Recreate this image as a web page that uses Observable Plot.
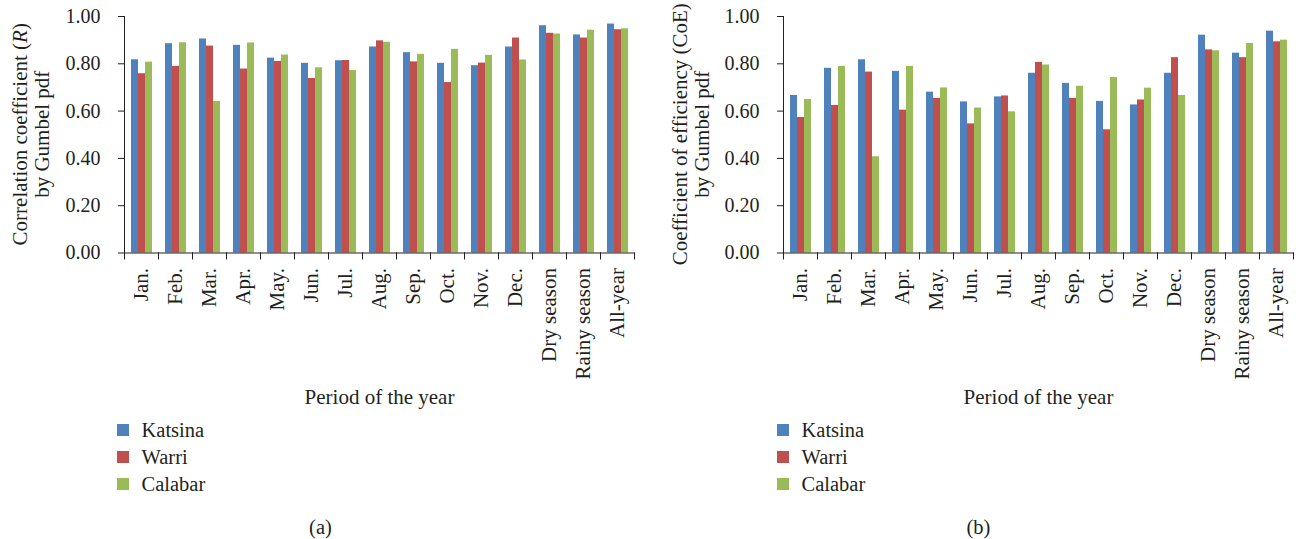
<!DOCTYPE html>
<html>
<head>
<meta charset="utf-8">
<script src="https://cdn.jsdelivr.net/npm/d3@7"></script>
<script src="https://cdn.jsdelivr.net/npm/@observablehq/plot@0.6"></script>
<style>
  body { margin: 0; background: #fff; font-family: "Liberation Serif", serif; color: #231f20; }
  #wrap { display: flex; width: 1302px; height: 539px; overflow: hidden; }
  .panel { width: 651px; position: relative; }
  .panel svg { display: block; }
  .legend { margin-top: 1.5px; font-size: 20.5px; }
  .legend .row { height: 27px; line-height: 27px; display: flex; align-items: center; }
  .legend .sw { width: 12px; height: 12px; display: inline-block; margin-right: 13px; }
  .caption { margin-top: 17px; height: 24px; line-height: 24px; font-size: 20.5px; text-align: center; }
</style>
</head>
<body>
<div id="wrap"></div>
<script>
// Periods on the category axis
const periods = ["Jan.", "Feb.", "Mar.", "Apr.", "May.", "Jun.", "Jul.", "Aug.", "Sep.", "Oct.", "Nov.", "Dec.", "Dry season", "Rainy season", "All-year"];
const stations = ["Katsina", "Warri", "Calabar"];
const stationColors = ["#4F81BD", "#C0504D", "#9BBB59"];
const yTicks = [0, 0.2, 0.4, 0.6, 0.8, 1.0];

// (a) Correlation coefficient R, Gumbel pdf
const rKatsina = [0.817, 0.885, 0.905, 0.878, 0.824, 0.802, 0.813, 0.871, 0.847, 0.802, 0.792, 0.871, 0.961, 0.922, 0.968];
const rWarri   = [0.758, 0.789, 0.875, 0.778, 0.810, 0.738, 0.814, 0.897, 0.808, 0.721, 0.803, 0.909, 0.929, 0.909, 0.944];
const rCalabar = [0.807, 0.889, 0.641, 0.888, 0.837, 0.783, 0.772, 0.891, 0.840, 0.861, 0.836, 0.816, 0.926, 0.942, 0.948];

// (b) Coefficient of efficiency CoE, Gumbel pdf
const coeKatsina = [0.666, 0.781, 0.817, 0.768, 0.680, 0.639, 0.660, 0.760, 0.717, 0.641, 0.626, 0.760, 0.921, 0.845, 0.938];
const coeWarri   = [0.573, 0.624, 0.765, 0.604, 0.654, 0.546, 0.664, 0.806, 0.654, 0.521, 0.647, 0.826, 0.859, 0.826, 0.893];
const coeCalabar = [0.649, 0.789, 0.407, 0.789, 0.698, 0.613, 0.597, 0.795, 0.705, 0.742, 0.697, 0.666, 0.855, 0.886, 0.900];

function toRows(series) {
  const rows = [];
  periods.forEach((p, i) => stations.forEach((s, k) => rows.push({period: p, station: s, value: series[k][i]})));
  return rows;
}

const H = 415, MT = 16, MB = 162.5;
const innerH = H - MT - MB;

function panel({series, labelParts, line2, marginLeft, marginRight, caption, captionShift}) {
  const width = 651;
  const chart = Plot.plot({
    width, height: H,
    marginTop: MT, marginBottom: MB, marginLeft, marginRight,
    style: {fontFamily: "Liberation Serif, serif", fontSize: "21px", color: "#231f20", background: "transparent", overflow: "visible"},
    fx: {domain: periods, padding: 0},
    x: {domain: stations, paddingInner: 0, paddingOuter: 0.74, axis: null},
    y: {domain: [0, 1]},
    color: {domain: stations, range: stationColors},
    marks: [
      Plot.barY(toRows(series), {fx: "period", x: "station", y: "value", fill: "station"}),
      // category boundary ticks below the baseline
      Plot.frame({anchor: "left", insetTop: innerH, insetBottom: -6, stroke: "#231f20"}),
      Plot.frame({anchor: "right", insetTop: innerH, insetBottom: -6, stroke: "#231f20", facetAnchor: "right"}),
      // baseline and value axis line
      Plot.frame({anchor: "bottom", stroke: "#231f20"}),
      Plot.frame({anchor: "left", stroke: "#231f20", facetAnchor: "left"}),
      Plot.axisY({ticks: yTicks, tickFormat: d3.format(".2f"), tickSize: 6, tickPadding: 18, fontSize: 20, label: null, stroke: "#231f20"}),
      Plot.axisFx({anchor: "bottom", tickSize: 0, tickPadding: 15, tickRotate: -90, fontSize: 21,
        label: "Period of the year", labelAnchor: "center", labelOffset: 150.5})
    ]
  });

  // Two-line value-axis title
  const svg = d3.select(chart);
  const [ya, yb] = chart.scale("y").range;
  const cy = (ya + yb) / 2;
  const t1 = svg.append("text")
    .attr("transform", `translate(${marginLeft - 97},${cy}) rotate(-90)`)
    .attr("text-anchor", "middle").attr("dy", "0.32em")
    .attr("font-size", 21).attr("fill", "#231f20");
  labelParts.forEach(([txt, italic]) => {
    const ts = t1.append("tspan").text(txt);
    if (italic) ts.attr("font-style", "italic");
  });
  svg.append("text")
    .attr("transform", `translate(${marginLeft - 75},${cy}) rotate(-90)`)
    .attr("text-anchor", "middle").attr("dy", "0.32em")
    .attr("font-size", 21).attr("fill", "#231f20")
    .text(line2);

  const div = document.createElement("div");
  div.className = "panel";
  div.appendChild(chart);

  const legend = document.createElement("div");
  legend.className = "legend";
  legend.style.paddingLeft = (marginLeft - 0.5) + "px";
  stations.forEach((s, k) => {
    const row = document.createElement("div");
    row.className = "row";
    const sw = document.createElement("span");
    sw.className = "sw";
    sw.style.background = stationColors[k];
    row.appendChild(sw);
    row.appendChild(document.createTextNode(s));
    legend.appendChild(row);
  });
  div.appendChild(legend);

  const cap = document.createElement("div");
  cap.className = "caption";
  cap.style.transform = `translateX(${captionShift}px)`;
  cap.textContent = caption;
  div.appendChild(cap);
  return div;
}

const wrap = document.getElementById("wrap");
wrap.appendChild(panel({
  series: [rKatsina, rWarri, rCalabar],
  labelParts: [["Correlation coefficient (", false], ["R", true], [")", false]],
  line2: "by Gumbel pdf",
  marginLeft: 117, marginRight: 11, caption: "(a)", captionShift: -5
}));
wrap.appendChild(panel({
  series: [coeKatsina, coeWarri, coeCalabar],
  labelParts: [["Coefficient of efficiency (CoE)", false]],
  line2: "by Gumbel pdf",
  marginLeft: 126, marginRight: 3, caption: "(b)", captionShift: 2
}));
</script>
</body>
</html>
